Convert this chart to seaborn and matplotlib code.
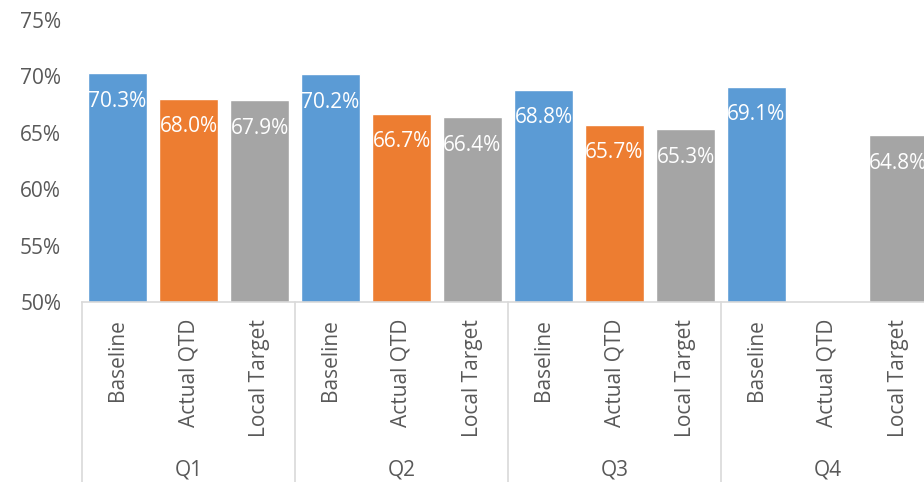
import numpy as np
import pandas as pd
import matplotlib
matplotlib.use("Agg")
import matplotlib.pyplot as plt
import matplotlib.transforms as mtransforms
from matplotlib.lines import Line2D
import seaborn as sns

quarters = ["Q1", "Q2", "Q3", "Q4"]
series = ["Baseline", "Actual QTD", "Local Target"]
baseline = [70.3, 70.2, 68.8, 69.1]
actual_qtd = [68.0, 66.7, 65.7, np.nan]
local_target = [67.9, 66.4, 65.3, 64.8]
colors = {"Baseline": "#5B9BD5", "Actual QTD": "#ED7D31", "Local Target": "#A5A5A5"}
yticks = [50, 55, 60, 65, 70, 75]

rows = []
for qi, q in enumerate(quarters):
    for s, vals in zip(series, [baseline, actual_qtd, local_target]):
        rows.append({"key": f"{q}|{s}", "quarter": q, "series": s, "value": vals[qi]})
df = pd.DataFrame(rows)
order = list(df["key"])

sns.set_theme(style="white")
plt.rcParams["font.family"] = ["Open Sans", "DejaVu Sans"]

W, H = 924, 482
fig = plt.figure(figsize=(W / 100, H / 100), dpi=100)
ax = fig.add_axes([82 / W, 180 / H, 852 / W, 282 / H])

sns.barplot(data=df, x="key", y="value", hue="series", order=order,
            palette=colors, dodge=False, width=0.83, legend=False, ax=ax,
            saturation=1)

ax.set_ylim(50, 75)
ax.set_xlim(-0.5, len(order) - 0.5)
ax.set_yticks(yticks)
ax.set_yticklabels([f"{v}%" for v in yticks])
ax.set_xlabel("")
ax.set_ylabel("")

text_color = "#595959"
ax.tick_params(axis="y", length=0, pad=15, labelsize=15, labelcolor=text_color)
ax.set_xticks(range(len(order)))
ax.set_xticklabels(list(df["series"]), rotation=90, va="top", ha="center")
ax.tick_params(axis="x", length=0, pad=12, labelsize=15, labelcolor=text_color)

for sp in ["top", "right", "left"]:
    ax.spines[sp].set_visible(False)
ax.spines["bottom"].set_color("#D9D9D9")
ax.spines["bottom"].set_linewidth(1.2)

# data labels
for i, v in enumerate(df["value"]):
    if np.isnan(v):
        continue
    ax.annotate(f"{v:.1f}%", xy=(i, v), xytext=(0, -28), textcoords="offset pixels",
                ha="center", va="center", color="white", fontsize=15)

# group separators and labels
trans = mtransforms.blended_transform_factory(ax.transData, fig.transFigure)
for b in [-0.5, 2.5, 5.5, 8.5, 11.5]:
    ax.add_line(Line2D([b, b], [0, 180 / H], transform=trans, color="#D9D9D9",
                       lw=1.2, clip_on=False))
for qi, q in enumerate(quarters):
    ax.text(qi * 3 + 1, 12 / H, q, transform=trans, ha="center", va="center",
            fontsize=15, color=text_color)

fig.savefig("out.png", dpi=100)
